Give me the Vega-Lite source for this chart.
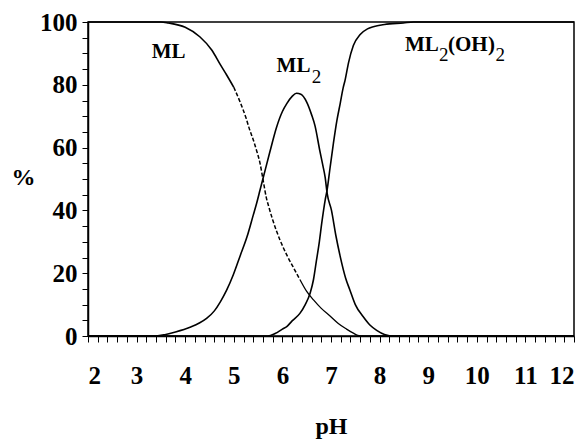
{
  "$schema": "https://vega.github.io/schema/vega-lite/v6.json",
  "width": 486,
  "height": 314,
  "autosize": {"type": "none"},
  "padding": {"left": 88, "top": 22, "right": 13, "bottom": 103},
  "background": "white",
  "config": {
    "view": {"stroke": "black", "strokeWidth": 1.5},
    "axis": {
      "grid": false,
      "domainColor": "black",
      "domainWidth": 1.5,
      "tickColor": "black",
      "tickWidth": 1,
      "tickSize": 6,
      "labelFont": "Liberation Serif",
      "labelFontWeight": "bold",
      "labelFontSize": 25,
      "labelColor": "black",
      "labelOverlap": false,
      "titleFont": "Liberation Serif",
      "titleFontWeight": "bold",
      "titleFontSize": 24,
      "titleColor": "black"
    }
  },
  "datasets": {
    "curves": [
      {"species": "ML", "pH": 2, "pct": 100},
      {"species": "ML", "pH": 3, "pct": 100},
      {"species": "ML", "pH": 3.5, "pct": 100},
      {"species": "ML", "pH": 3.65, "pct": 99.7},
      {"species": "ML", "pH": 4.0, "pct": 98.3},
      {"species": "ML", "pH": 4.3, "pct": 95.3},
      {"species": "ML", "pH": 4.55, "pct": 91},
      {"species": "ML", "pH": 4.72, "pct": 86.5},
      {"species": "ML", "pH": 4.85, "pct": 83.2},
      {"species": "ML", "pH": 5.0, "pct": 79.2},
      {"species": "ML", "pH": 5.13, "pct": 74.5},
      {"species": "ML", "pH": 5.25, "pct": 69.5},
      {"species": "ML", "pH": 5.33, "pct": 65.5},
      {"species": "ML", "pH": 5.4, "pct": 62.5},
      {"species": "ML", "pH": 5.47, "pct": 59},
      {"species": "ML", "pH": 5.54, "pct": 55},
      {"species": "ML", "pH": 5.61, "pct": 49},
      {"species": "ML", "pH": 5.67, "pct": 44},
      {"species": "ML", "pH": 5.71, "pct": 41.7},
      {"species": "ML", "pH": 5.8, "pct": 37},
      {"species": "ML", "pH": 5.95, "pct": 30.6},
      {"species": "ML", "pH": 6.1, "pct": 25.5},
      {"species": "ML", "pH": 6.22, "pct": 22},
      {"species": "ML", "pH": 6.36, "pct": 18},
      {"species": "ML", "pH": 6.5, "pct": 14.2},
      {"species": "ML", "pH": 6.64, "pct": 11.5},
      {"species": "ML", "pH": 6.8, "pct": 8.8},
      {"species": "ML", "pH": 6.98, "pct": 6.4},
      {"species": "ML", "pH": 7.15, "pct": 4},
      {"species": "ML", "pH": 7.32, "pct": 2.2},
      {"species": "ML", "pH": 7.46, "pct": 0.9},
      {"species": "ML", "pH": 7.55, "pct": 0.2},
      {"species": "ML", "pH": 7.65, "pct": 0},
      {"species": "ML", "pH": 8, "pct": 0},
      {"species": "ML", "pH": 12, "pct": 0},
      {"species": "ML2", "pH": 2, "pct": 0},
      {"species": "ML2", "pH": 3, "pct": 0},
      {"species": "ML2", "pH": 3.4, "pct": 0},
      {"species": "ML2", "pH": 3.6, "pct": 0.5},
      {"species": "ML2", "pH": 3.8, "pct": 1.3},
      {"species": "ML2", "pH": 4.1, "pct": 2.8},
      {"species": "ML2", "pH": 4.3, "pct": 4.2},
      {"species": "ML2", "pH": 4.44, "pct": 5.6},
      {"species": "ML2", "pH": 4.6, "pct": 8},
      {"species": "ML2", "pH": 4.72, "pct": 10.8},
      {"species": "ML2", "pH": 4.85, "pct": 14.5},
      {"species": "ML2", "pH": 4.99, "pct": 19.5},
      {"species": "ML2", "pH": 5.13, "pct": 25.5},
      {"species": "ML2", "pH": 5.27, "pct": 31.5},
      {"species": "ML2", "pH": 5.4, "pct": 38.5},
      {"species": "ML2", "pH": 5.47, "pct": 42.3},
      {"species": "ML2", "pH": 5.54, "pct": 46.5},
      {"species": "ML2", "pH": 5.61, "pct": 50.7},
      {"species": "ML2", "pH": 5.74, "pct": 58.5},
      {"species": "ML2", "pH": 5.88, "pct": 66.5},
      {"species": "ML2", "pH": 6.0, "pct": 71.5},
      {"species": "ML2", "pH": 6.09, "pct": 74},
      {"species": "ML2", "pH": 6.2, "pct": 76.3},
      {"species": "ML2", "pH": 6.29, "pct": 77.3},
      {"species": "ML2", "pH": 6.38, "pct": 77},
      {"species": "ML2", "pH": 6.5, "pct": 74.5},
      {"species": "ML2", "pH": 6.6, "pct": 70.5},
      {"species": "ML2", "pH": 6.67, "pct": 67},
      {"species": "ML2", "pH": 6.77, "pct": 59},
      {"species": "ML2", "pH": 6.83, "pct": 54.5},
      {"species": "ML2", "pH": 6.88, "pct": 50.5},
      {"species": "ML2", "pH": 6.92, "pct": 45.5},
      {"species": "ML2", "pH": 7.01, "pct": 40},
      {"species": "ML2", "pH": 7.1, "pct": 32},
      {"species": "ML2", "pH": 7.19, "pct": 25.3},
      {"species": "ML2", "pH": 7.3, "pct": 18.5},
      {"species": "ML2", "pH": 7.39, "pct": 14.6},
      {"species": "ML2", "pH": 7.5, "pct": 10},
      {"species": "ML2", "pH": 7.66, "pct": 6.2},
      {"species": "ML2", "pH": 7.8, "pct": 3.5},
      {"species": "ML2", "pH": 7.94, "pct": 1.8},
      {"species": "ML2", "pH": 8.1, "pct": 0.5},
      {"species": "ML2", "pH": 8.3, "pct": 0},
      {"species": "ML2", "pH": 12, "pct": 0},
      {"species": "ML2(OH)2", "pH": 2, "pct": 0},
      {"species": "ML2(OH)2", "pH": 5.7, "pct": 0},
      {"species": "ML2(OH)2", "pH": 5.85, "pct": 0.8},
      {"species": "ML2(OH)2", "pH": 6.0, "pct": 2.2},
      {"species": "ML2(OH)2", "pH": 6.09, "pct": 3.0},
      {"species": "ML2(OH)2", "pH": 6.2, "pct": 4.8},
      {"species": "ML2(OH)2", "pH": 6.36, "pct": 7.2},
      {"species": "ML2(OH)2", "pH": 6.47, "pct": 10},
      {"species": "ML2(OH)2", "pH": 6.57, "pct": 13.6},
      {"species": "ML2(OH)2", "pH": 6.64, "pct": 18},
      {"species": "ML2(OH)2", "pH": 6.7, "pct": 24},
      {"species": "ML2(OH)2", "pH": 6.76, "pct": 30},
      {"species": "ML2(OH)2", "pH": 6.81, "pct": 36},
      {"species": "ML2(OH)2", "pH": 6.88, "pct": 43.3},
      {"species": "ML2(OH)2", "pH": 6.92, "pct": 46.5},
      {"species": "ML2(OH)2", "pH": 6.98, "pct": 53.5},
      {"species": "ML2(OH)2", "pH": 7.05, "pct": 61.4},
      {"species": "ML2(OH)2", "pH": 7.12, "pct": 68.5},
      {"species": "ML2(OH)2", "pH": 7.19, "pct": 74.1},
      {"species": "ML2(OH)2", "pH": 7.25, "pct": 79},
      {"species": "ML2(OH)2", "pH": 7.29, "pct": 81.5},
      {"species": "ML2(OH)2", "pH": 7.36, "pct": 87},
      {"species": "ML2(OH)2", "pH": 7.46, "pct": 92.5},
      {"species": "ML2(OH)2", "pH": 7.6, "pct": 96},
      {"species": "ML2(OH)2", "pH": 7.75, "pct": 97.8},
      {"species": "ML2(OH)2", "pH": 7.87, "pct": 98.5},
      {"species": "ML2(OH)2", "pH": 8.1, "pct": 99.2},
      {"species": "ML2(OH)2", "pH": 8.49, "pct": 99.7},
      {"species": "ML2(OH)2", "pH": 8.7, "pct": 100},
      {"species": "ML2(OH)2", "pH": 12, "pct": 100}
    ],
    "labelMain": [
      {"text": "ML", "pH": 3.311, "pct": 88.44},
      {"text": "ML", "pH": 5.881, "pct": 84.17},
      {"text": "ML", "pH": 8.523, "pct": 90.67},
      {"text": "(OH", "pH": 9.407, "pct": 90.67},
      {"text": ")", "pH": 10.23, "pct": 90.67}
    ],
    "labelSub": [
      {"text": "2", "pH": 6.602, "pct": 80.48},
      {"text": "2", "pH": 9.22, "pct": 87.48},
      {"text": "2", "pH": 10.386, "pct": 87.48}
    ]
  },
  "encoding": {
    "x": {
      "field": "pH", "type": "quantitative",
      "scale": {"domain": [2, 12], "nice": false, "zero": false},
      "axis": {
        "title": "pH",
        "values": [2,2.2,2.4,2.6,2.8,3,3.2,3.4,3.6,3.8,4,4.2,4.4,4.6,4.8,5,5.2,5.4,5.6,5.8,6,6.2,6.4,6.6,6.8,7,7.2,7.4,7.6,7.8,8,8.2,8.4,8.6,8.8,9,9.2,9.4,9.6,9.8,10,10.2,10.4,10.6,10.8,11,11.2,11.4,11.6,11.8,12],
        "labelExpr": "datum.value == round(datum.value) ? format(datum.value, 'd') : ''",
        "labelPadding": 21,
        "titleY": 97,
        "titleBaseline": "alphabetic"
      }
    },
    "y": {
      "field": "pct", "type": "quantitative",
      "scale": {"domain": [0, 100], "nice": false},
      "axis": {
        "title": "%",
        "values": [0,5,10,15,20,25,30,35,40,45,50,55,60,65,70,75,80,85,90,95,100],
        "labelExpr": "datum.value % 20 == 0 ? format(datum.value, 'd') : ''",
        "labelPadding": 5,
        "titleAngle": 0,
        "titleX": -65,
        "titleY": 155,
        "titleAlign": "center",
        "titleBaseline": "middle"
      }
    }
  },
  "layer": [
    {
      "data": {"name": "curves"},
      "transform": [{"filter": "datum.species != 'ML' || datum.pH <= 5.0"}],
      "mark": {"type": "line", "color": "black", "strokeWidth": 1.6, "interpolate": "monotone"},
      "encoding": {"detail": {"field": "species"}}
    },
    {
      "data": {"name": "curves"},
      "transform": [{"filter": "datum.species == 'ML' && datum.pH >= 5.0 && datum.pH <= 6.36"}],
      "mark": {"type": "line", "color": "black", "strokeWidth": 1.5, "strokeDash": [4, 2], "interpolate": "monotone"},
      "encoding": {}
    },
    {
      "data": {"name": "curves"},
      "transform": [{"filter": "datum.species == 'ML' && datum.pH >= 6.36"}],
      "mark": {"type": "line", "color": "black", "strokeWidth": 1.3, "interpolate": "monotone"},
      "encoding": {}
    },
    {
      "data": {"name": "labelMain"},
      "mark": {"type": "text", "font": "Liberation Serif", "fontWeight": "bold", "fontSize": 21, "align": "left", "baseline": "alphabetic", "color": "black"},
      "encoding": {"text": {"field": "text"}}
    },
    {
      "data": {"name": "labelSub"},
      "mark": {"type": "text", "font": "Liberation Serif", "fontWeight": "normal", "fontSize": 19, "align": "left", "baseline": "alphabetic", "color": "black"},
      "encoding": {"text": {"field": "text"}}
    }
  ]
}
